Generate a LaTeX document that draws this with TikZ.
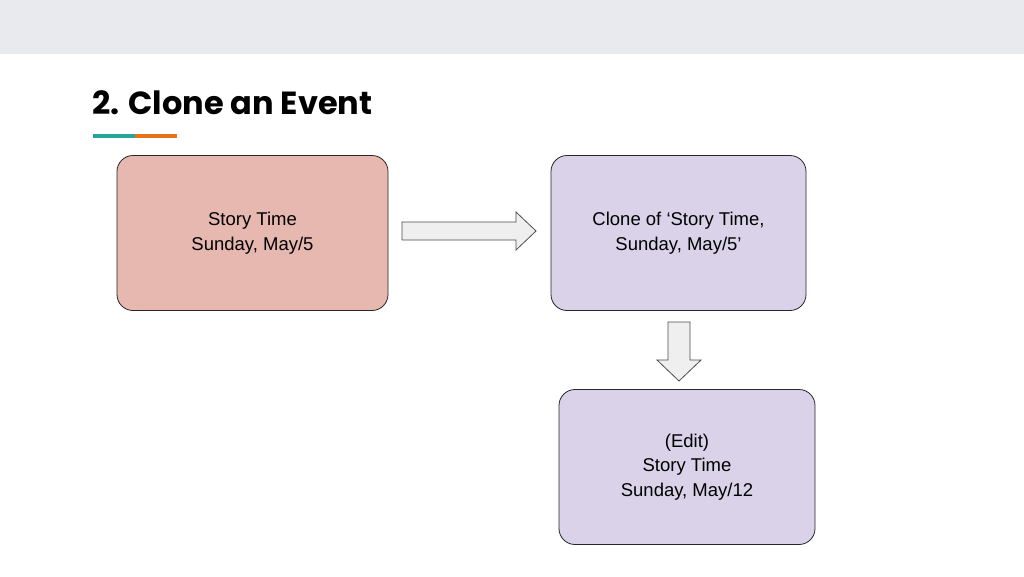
\documentclass[tikz,border=0pt]{standalone}
\usepackage{fontspec}
\setmainfont{Liberation Sans}
\newfontfamily\titlefont{Poppins}
\usetikzlibrary{positioning}
\definecolor{bandgray}{HTML}{E8EAED}
\definecolor{pinkfill}{HTML}{E6B8AF}
\definecolor{lilacfill}{HTML}{D9D2E9}
\definecolor{arrowfill}{HTML}{EFEFEF}
\definecolor{tealbar}{HTML}{26A69A}
\definecolor{orangebar}{HTML}{E8711A}
\tikzset{
  eventbox/.style={draw=black!85, line width=0.8pt, rounded corners=16pt,
    minimum width=#1, minimum height=155pt, align=center,
    font=\fontsize{18.5}{24.5}\selectfont},
  flowarrow/.style={draw=black!70, fill=arrowfill, line width=0.8pt, line join=miter}
}
\begin{document}
\begin{tikzpicture}[x=1pt,y=-1pt]
\useasboundingbox (0,0) rectangle (1024,576);
% band and title
\fill[bandgray] (0,0) rectangle (1024,54);
\node[anchor=base west, inner sep=0pt, font=\titlefont\bfseries\fontsize{32}{36}\selectfont] (title) at (92,114) {2. Clone an Event};
\fill[tealbar] (93,134) rectangle (135,138);
\fill[orangebar] (135,134) rectangle (177,138);
% boxes
\node[eventbox=271pt, fill=pinkfill] (story) at (252.5,233) {Story Time\\Sunday, May/5};
\node[eventbox=255pt, fill=lilacfill] (clone) at (678.5,233) {Clone of `Story Time,\\Sunday, May/5'};
\node[eventbox=256pt, fill=lilacfill] (edit) at (687,467) {(Edit)\\Story Time\\Sunday, May/12};
% arrows
\draw[flowarrow] (402,222) -- (516,222) -- (516,212) -- (536,231) -- (516,250) -- (516,240) -- (402,240) -- cycle;
\draw[flowarrow] (668,322) -- (690,322) -- (690,360) -- (701,360) -- (679,381) -- (657,360) -- (668,360) -- cycle;
\end{tikzpicture}
\end{document}
